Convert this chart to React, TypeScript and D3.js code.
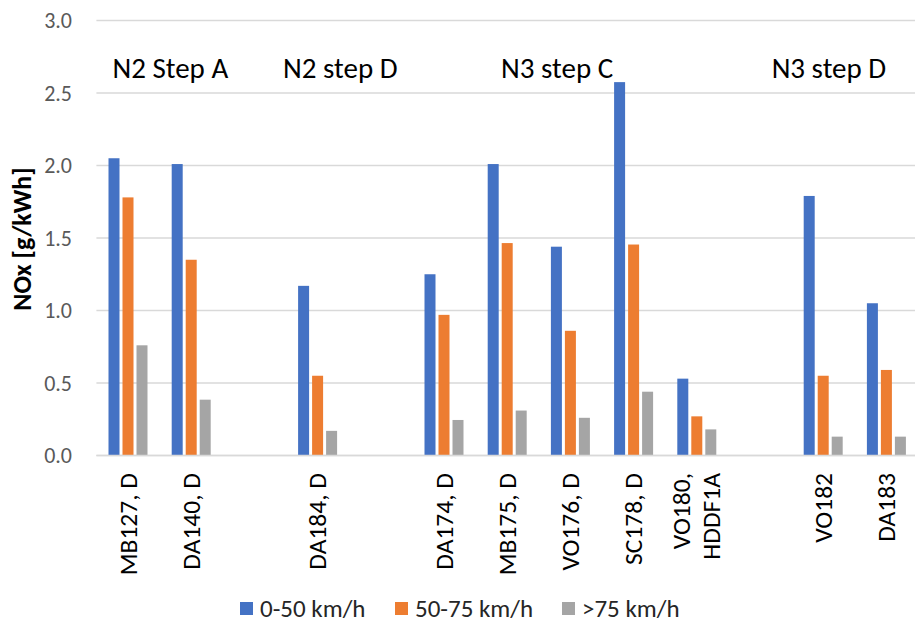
import React from "react";
import * as d3 from "d3";

const categories = ["MB127, D", "DA140, D", "", "DA184, D", "", "DA174, D", "MB175, D", "VO176, D", "SC178, D", "VO180,|HDDF1A", "", "VO182", "DA183"];
const seriesNames = ["0-50 km/h", "50-75 km/h", ">75 km/h"];
const speedLow = [2.05, 2.01, null, 1.17, null, 1.25, 2.01, 1.44, 2.575, 0.53, null, 1.79, 1.05];
const speedMid = [1.78, 1.35, null, 0.55, null, 0.97, 1.465, 0.86, 1.455, 0.27, null, 0.55, 0.59];
const speedHigh = [0.76, 0.385, null, 0.17, null, 0.245, 0.31, 0.26, 0.44, 0.18, null, 0.13, 0.13];
const yTicks = [0, 0.5, 1.0, 1.5, 2.0, 2.5, 3.0];
const groupLabels = ["N2 Step A", "N2 step D", "N3 step C", "N3 step D"];
const groupSlots = [0.67, 3.36, 6.79, 11.09];

const colors = ["#4472C4", "#ED7D31", "#A5A5A5"];
const FONT = "Carlito, Calibri, Lato, 'Open Sans', sans-serif";

export default function App() {
  const W = 915, H = 623;
  const left = 96.4, right = 918, top = 20.5, bottom = 455.5;
  const series = [speedLow, speedMid, speedHigh];
  const idx = categories.map((_, i) => String(i));
  const x = d3.scaleBand<string>().domain(idx).range([left, right]).padding(0);
  const step = x.bandwidth();
  const groupW = 39;
  const xs = d3.scaleBand<number>().domain([0, 1, 2]).range([(step - groupW) / 2, (step + groupW) / 2]).paddingInner(3 / 14);
  const y = d3.scaleLinear().domain([0, 3]).range([bottom, top]);
  const slotCenter = (s: number) => left + step * (s + 0.5);

  return (
    <div style={{ position: "fixed", left: 0, top: 0, width: W, height: H, background: "#fff" }}>
      <svg width={W} height={H} style={{ display: "block", fontFamily: FONT }}>
        {yTicks.map((t) => (
          <g key={t}>
            <line x1={left} x2={W} y1={y(t)} y2={y(t)} stroke="#D9D9D9" strokeWidth={1.3} />
            <text x={72} y={y(t)} textAnchor="end" dominantBaseline="central" fontSize={22} fill="#595959">
              {t.toFixed(1)}
            </text>
          </g>
        ))}
        {series.map((vals, si) =>
          vals.map((v, ci) =>
            v == null ? null : (
              <rect
                key={`${si}-${ci}`}
                x={(x(String(ci)) as number) + (xs(si) as number)}
                y={y(v)}
                width={xs.bandwidth()}
                height={y(0) - y(v)}
                fill={colors[si]}
              />
            )
          )
        )}
        <line x1={left} x2={W} y1={y(0)} y2={y(0)} stroke="#D9D9D9" strokeWidth={1.3} />
        {categories.map((c, i) => {
          if (!c) return null;
          const lines = c.split("|");
          const cx = (x(String(i)) as number) + step / 2;
          const lh = 30;
          return lines.map((ln, li) => {
            const off = (li - (lines.length - 1) / 2) * lh;
            return (
              <text
                key={`${i}-${li}`}
                transform={`translate(${cx + off},473) rotate(-90)`}
                textAnchor="end"
                dominantBaseline="central"
                fontSize={25.5}
                fill="#000"
              >
                {ln}
              </text>
            );
          });
        })}
        {groupLabels.map((g, i) => (
          <text key={g} x={slotCenter(groupSlots[i])} y={78} textAnchor="middle" fontSize={29} fill="#000">
            {g}
          </text>
        ))}
        <text
          transform={`translate(22,239) rotate(-90)`}
          textAnchor="middle"
          dominantBaseline="central"
          fontSize={26}
          fontWeight="bold"
          fill="#000"
        >
          NOx [g/kWh]
        </text>
        {seriesNames.map((n, i) => {
          const lx = [240, 395, 562][i];
          return (
            <g key={n}>
              <rect x={lx} y={602} width={13} height={13} fill={colors[i]} />
              <text x={lx + 20} y={608} dominantBaseline="central" fontSize={25} fill="#262626">
                {n}
              </text>
            </g>
          );
        })}
      </svg>
    </div>
  );
}
